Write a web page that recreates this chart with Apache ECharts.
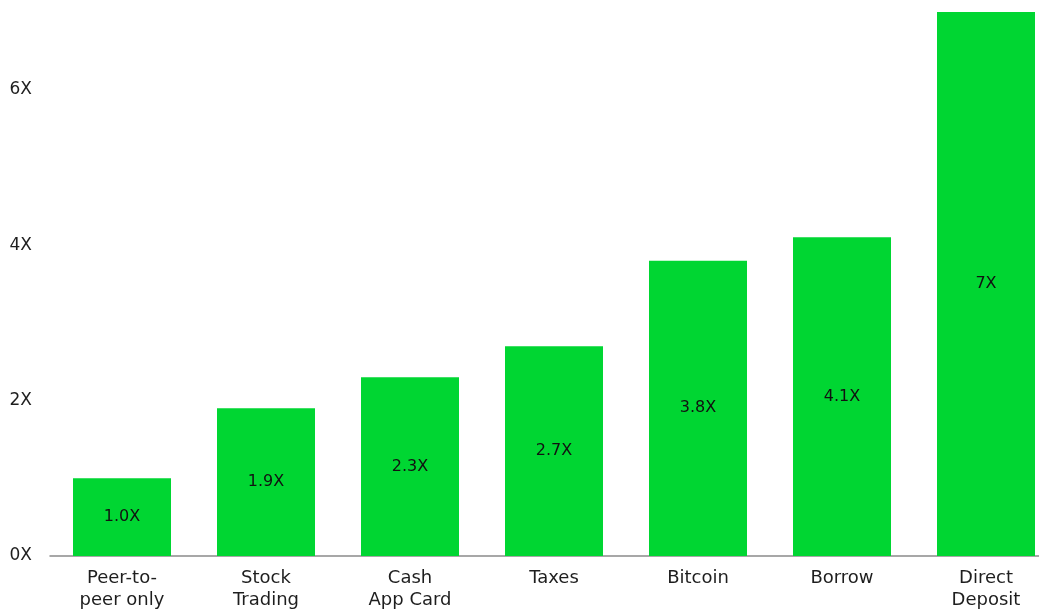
<!DOCTYPE html>
<html>
<head>
<meta charset="utf-8">
<script src="https://cdn.jsdelivr.net/npm/echarts@6/dist/echarts.min.js"></script>
<style>
  html, body { margin: 0; padding: 0; background: #fff; overflow: hidden; }
  /* the canvas is a little wider than the window, so the last slot runs off the right edge */
  #chart { width: 1058px; height: 611px; }
</style>
</head>
<body>
<div id="chart"></div>
<script>
// Product categories (two-line labels where the name wraps)
const categories = [
  'Peer-to-\npeer only',
  'Stock\nTrading',
  'Cash\nApp Card',
  'Taxes',
  'Bitcoin',
  'Borrow',
  'Direct\nDeposit'
];

// Multiplier relative to peer-to-peer only
const multipliers = [1.0, 1.9, 2.3, 2.7, 3.8, 4.1, 7];

// Text shown inside each bar
const valueLabels = ['1.0X', '1.9X', '2.3X', '2.7X', '3.8X', '4.1X', '7X'];

const FONT = 'DejaVu Sans';
const chart = echarts.init(document.getElementById('chart'), null, { renderer: 'canvas' });

chart.setOption({
  animation: false,
  backgroundColor: '#ffffff',
  grid: { left: 50, top: 12, right: 0, bottom: 55, containLabel: false },
  xAxis: {
    type: 'category',
    data: categories,
    axisLine: { show: true, lineStyle: { color: '#8a8a8a', width: 1.5 } },
    axisTick: { show: false },
    axisLabel: {
      interval: 0,
      margin: 11,
      color: '#1e1e1e',
      fontFamily: FONT,
      fontSize: 18,
      lineHeight: 22,
      verticalAlign: 'top'
    }
  },
  yAxis: {
    type: 'value',
    min: 0,
    max: 7,
    interval: 2,
    splitLine: { show: false },
    axisLine: { show: false },
    axisTick: { show: false },
    axisLabel: {
      showMaxLabel: false,
      margin: 18,
      color: '#1e1e1e',
      fontFamily: FONT,
      fontSize: 17,
      formatter: v => (v === 7 ? '' : v + 'X')
    }
  },
  series: [{
    type: 'bar',
    data: multipliers,
    barWidth: 98,
    itemStyle: { color: '#00d632' },
    label: {
      show: true,
      position: 'inside',
      color: '#111',
      fontFamily: FONT,
      fontSize: 16,
      formatter: p => valueLabels[p.dataIndex]
    }
  }]
});
</script>
</body>
</html>
